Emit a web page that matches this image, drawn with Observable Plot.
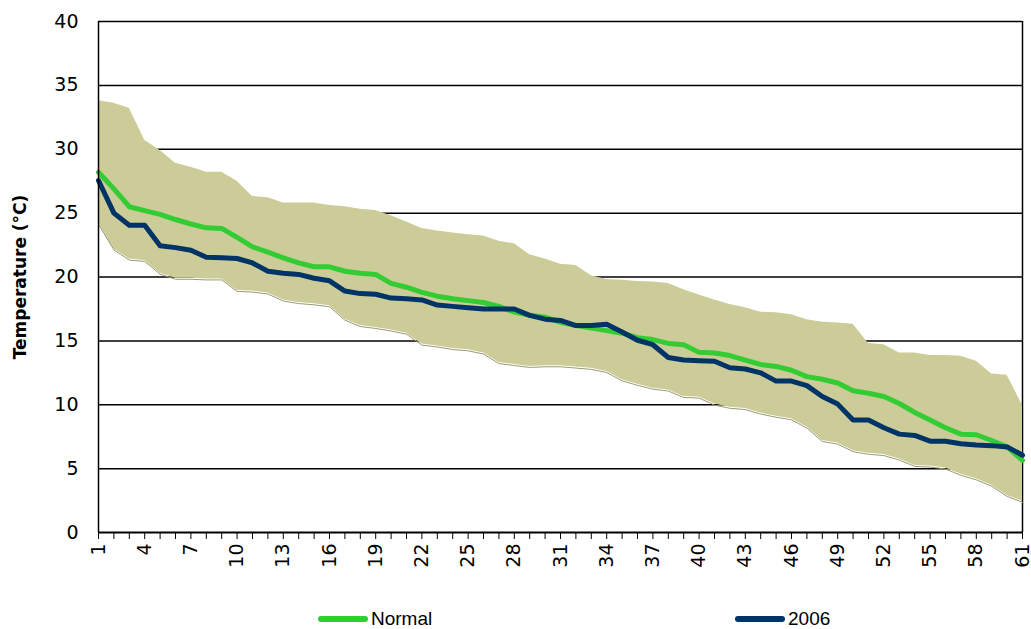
<!DOCTYPE html>
<html><head><meta charset="utf-8">
<script src="https://cdn.jsdelivr.net/npm/d3@7"></script>
<script src="https://cdn.jsdelivr.net/npm/@observablehq/plot@0.6"></script>
<style>
body{margin:0;background:#fff;width:1031px;height:629px;overflow:hidden;position:relative;font-family:"Liberation Sans",Arial,sans-serif}
#chart{position:absolute;left:0;top:0}
.item{position:absolute;top:607px;height:24px;display:flex;align-items:center;font-size:19px;color:#000}
.sw{width:50px;height:6px;border-radius:3px;margin-right:3px}
</style></head><body>
<div id="chart"></div>
<div class="item" style="left:318px"><span class="sw" style="background:#33cc33"></span>Normal</div>
<div class="item" style="left:735px"><span class="sw" style="background:#003366"></span>2006</div>
<script>
const days = d3.range(1, 62);
const upper = [33.8,33.6,33.2,30.7,29.9,28.9,28.6,28.2,28.2,27.5,26.3,26.2,25.8,25.8,25.8,25.6,25.5,25.3,25.2,24.8,24.3,23.8,23.6,23.45,23.3,23.2,22.8,22.6,21.75,21.4,21.0,20.9,20.1,19.8,19.75,19.65,19.6,19.5,19.0,18.6,18.2,17.85,17.6,17.25,17.2,17.05,16.65,16.45,16.4,16.3,14.8,14.7,14.05,14.05,13.85,13.85,13.8,13.4,12.4,12.3,9.95];
const lower = [24.2,22.2,21.4,21.3,20.3,19.9,19.9,19.85,19.85,18.95,18.9,18.75,18.2,18.0,17.9,17.75,16.7,16.2,16.05,15.85,15.6,14.75,14.6,14.4,14.3,14.05,13.3,13.15,13.0,13.05,13.05,12.95,12.85,12.6,11.95,11.6,11.3,11.15,10.65,10.6,10.05,9.8,9.7,9.35,9.1,8.9,8.25,7.2,7.0,6.4,6.2,6.1,5.75,5.25,5.2,5.05,4.55,4.2,3.7,2.9,2.45];
const normal = [28.2,26.9,25.5,25.2,24.9,24.5,24.15,23.85,23.8,23.1,22.35,21.95,21.5,21.1,20.8,20.8,20.45,20.3,20.2,19.5,19.2,18.8,18.5,18.3,18.15,18.0,17.7,17.25,17.0,16.85,16.45,16.2,16.0,15.8,15.6,15.25,15.1,14.8,14.7,14.1,14.05,13.85,13.5,13.15,13.0,12.7,12.2,12.0,11.7,11.1,10.9,10.65,10.1,9.4,8.8,8.2,7.7,7.65,7.2,6.7,5.65];
const y2006 = [27.55,25.0,24.05,24.05,22.45,22.3,22.1,21.55,21.5,21.45,21.1,20.45,20.3,20.2,19.9,19.7,18.9,18.7,18.65,18.35,18.3,18.2,17.8,17.7,17.6,17.5,17.5,17.5,17.0,16.7,16.6,16.2,16.2,16.3,15.7,15.05,14.7,13.7,13.5,13.45,13.4,12.9,12.8,12.5,11.85,11.85,11.5,10.65,10.05,8.8,8.8,8.2,7.7,7.6,7.15,7.15,6.95,6.85,6.8,6.7,6.05];
const yTicks = [0,5,10,15,20,25,30,35,40];
const xTickLabels = [1,4,7,10,13,16,19,22,25,28,31,34,37,40,43,46,49,52,55,58,61];

const data = days.map((d, i) => ({day: d, upper: upper[i], lower: lower[i], normal: normal[i], y2006: y2006[i]}));

const chart = Plot.plot({
  width: 1031, height: 580,
  marginLeft: 98, marginRight: 9, marginTop: 21, marginBottom: 48,
  style: {fontFamily: "DejaVu Sans", fontSize: "19px", background: "#fff", overflow: "visible"},
  x: {domain: [1, 61]},
  y: {domain: [0, 40]},
  marks: [
    Plot.ruleY(yTicks.filter(v => v > 0), {stroke: "#000", strokeWidth: 1.5}),
    Plot.ruleX([61], {stroke: "#000", strokeWidth: 1.5}),
    Plot.areaY(data, {x: "day", y1: "lower", y2: "upper", fill: "#cccc99"}),
    Plot.lineY(data, {x: "day", y: "lower", stroke: "#9a9a78", strokeWidth: 1, dy: 1}),
    Plot.lineY(data, {x: "day", y: "normal", stroke: "#33cc33", strokeWidth: 5}),
    Plot.lineY(data, {x: "day", y: "y2006", stroke: "#003366", strokeWidth: 5}),
    Plot.ruleX([1], {stroke: "#000", strokeWidth: 1.5}),
    Plot.ruleY([0], {stroke: "#000", strokeWidth: 2}),
    Plot.axisX({ticks: days, tickFormat: d => xTickLabels.includes(d) ? String(d) : "", tickRotate: -90, tickSize: 7, tickPadding: 4, label: null}),
    Plot.axisY({ticks: yTicks, tickSize: 0, tickPadding: 20, label: null}),
    Plot.text(["Temperature (°C)"], {frameAnchor: "left", dx: -78, rotate: -90, textAnchor: "middle", fontWeight: "bold", fontSize: 17, fontFamily: "DejaVu Sans"})
  ]
});
document.getElementById("chart").appendChild(chart);
</script>
</body></html>
